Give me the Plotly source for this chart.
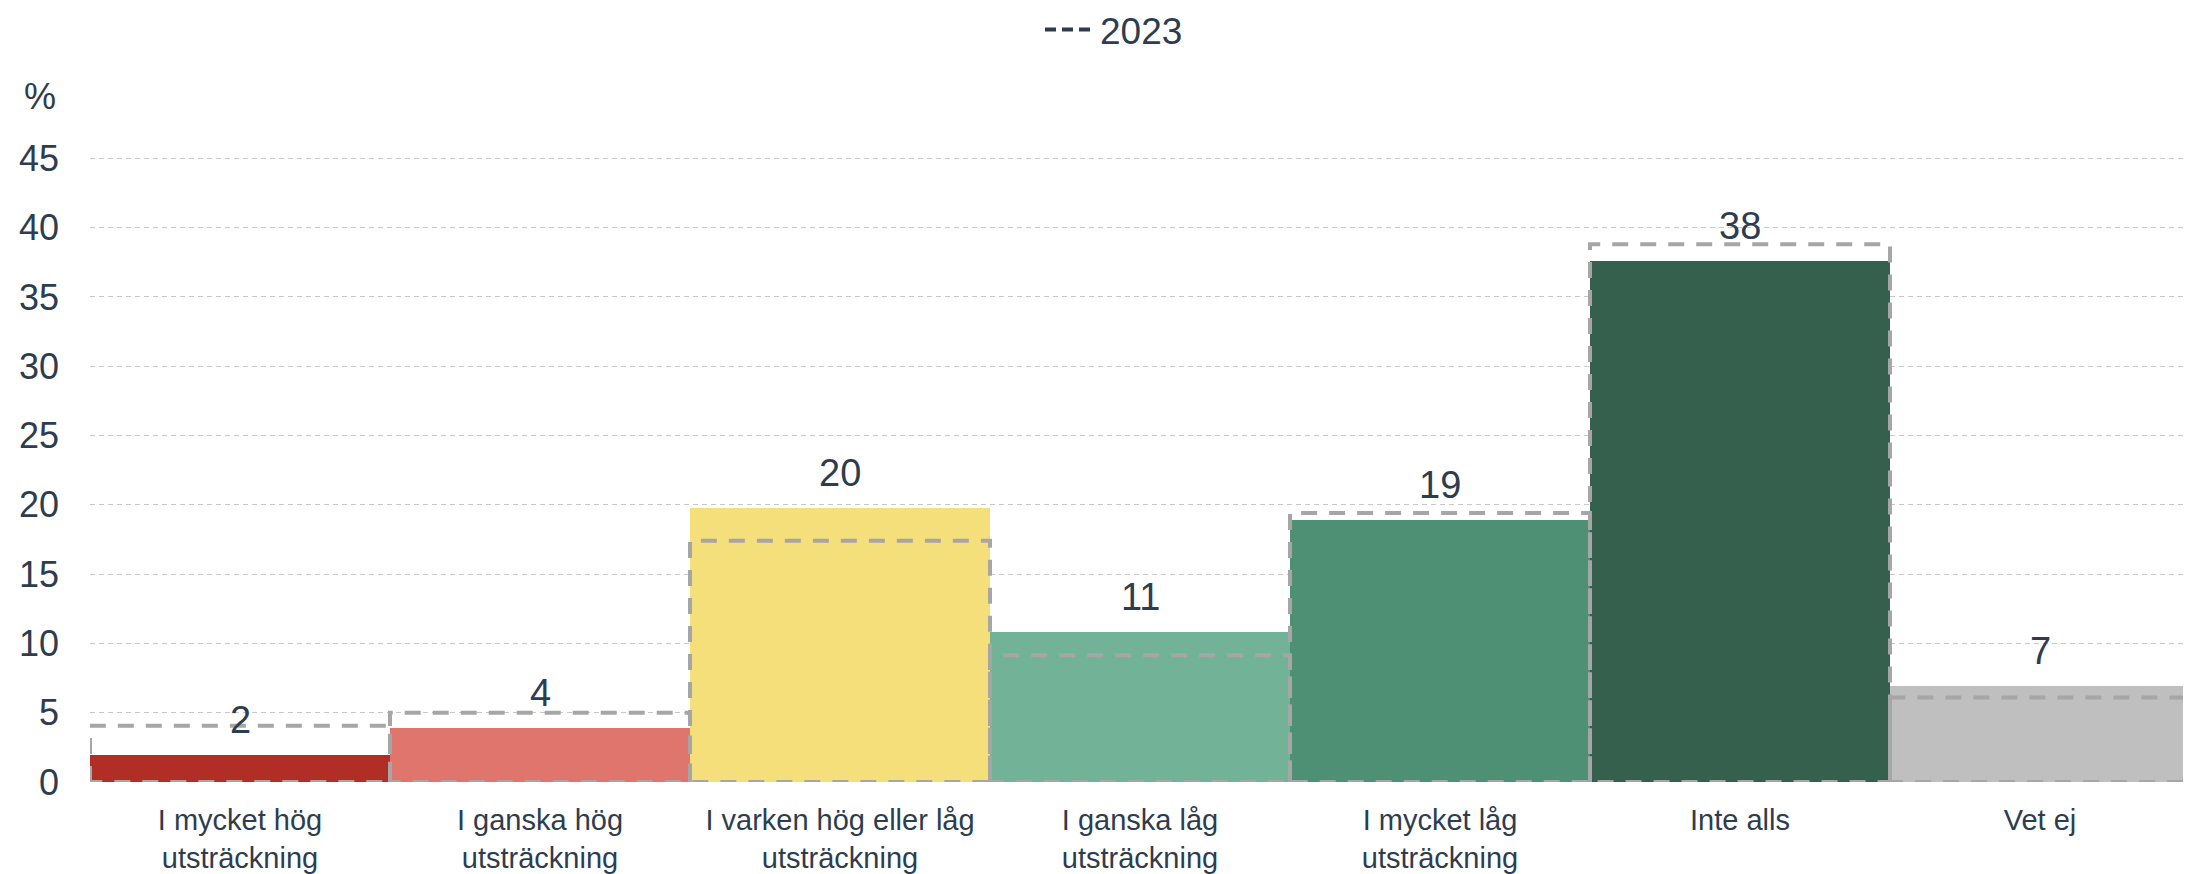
import plotly.graph_objects as go

categories = [
    "I mycket hög<br>utsträckning",
    "I ganska hög<br>utsträckning",
    "I varken hög eller låg<br>utsträckning",
    "I ganska låg<br>utsträckning",
    "I mycket låg<br>utsträckning",
    "Inte alls",
    "Vet ej",
]
values_current = [1.95, 3.9, 19.8, 10.8, 18.9, 37.6, 6.9]
values_2023 = [4.05, 5.0, 17.4, 9.15, 19.4, 38.8, 6.1]
bar_colors = ["#B02E26", "#E0756D", "#F5DF7B", "#72B398", "#4E9074", "#34604D", "#BFBFBF"]
y_ticks = [0, 5, 10, 15, 20, 25, 30, 35, 40, 45]

TEXT = "#2E3D4E"
FONT = "Arial, Liberation Sans, sans-serif"

OFF = 8  # page body margin
W, H = 2191 - OFF, 874 - OFF
# plot area in page coords: x 90..2190, y 89..782
ML, MR = 90 - OFF, W - (2190 - OFF)
MT, MB = 89 - OFF, H - (782 - OFF)
plot_w = W - ML - MR
plot_h = H - MT - MB


def px_to_paper_x(px):
    return (px - OFF - ML) / plot_w


def px_to_paper_y(py):
    return (H - MB - (py - OFF)) / plot_h


xs = list(range(len(categories)))

fig = go.Figure()
fig.add_trace(go.Bar(
    x=xs, y=values_current, width=1,
    marker=dict(color=bar_colors, line=dict(width=0)),
    showlegend=False, hoverinfo="skip",
))

# 2023 dashed outlines, built from the data values
ox, oy = [], []
for i, v in zip(xs, values_2023):
    ox += [i - 0.5, i - 0.5, i + 0.5, i + 0.5, i - 0.5, None]
    oy += [0, v, v, 0, 0, None]
fig.add_trace(go.Scatter(
    x=ox, y=oy, mode="lines",
    line=dict(color="#A6A6A6", width=4, dash="16px,12px"),
    showlegend=False, hoverinfo="skip", cliponaxis=False,
))
# legend entry
fig.add_trace(go.Scatter(
    x=[None], y=[None], mode="lines", name="2023",
    line=dict(color=TEXT, width=4, dash="11px,6px"),
))

for i, v in zip(xs, values_current):
    fig.add_annotation(
        x=i, y=v, xref="x", yref="y", text=str(round(v)),
        showarrow=False, yanchor="middle", yshift=35,
        font=dict(family=FONT, size=38, color=TEXT),
    )

fig.add_annotation(
    xref="paper", yref="paper",
    x=px_to_paper_x(40), y=px_to_paper_y(97),
    text="%", showarrow=False, xanchor="center", yanchor="middle",
    font=dict(family=FONT, size=36, color=TEXT),
)

fig.update_layout(
    width=W, height=H,
    margin=dict(l=ML, r=MR, t=MT, b=MB, autoexpand=False),
    paper_bgcolor="white", plot_bgcolor="white",
    bargap=0,
    font=dict(family=FONT, color=TEXT),
    showlegend=True,
    legend=dict(
        orientation="h", xref="paper", yref="paper",
        x=px_to_paper_x(1114), xanchor="center",
        y=px_to_paper_y(OFF - 9), yanchor="top",
        itemwidth=50, borderwidth=0,
        font=dict(family=FONT, size=37, color=TEXT),
        bgcolor="rgba(0,0,0,0)",
    ),
    xaxis=dict(
        range=[-0.5, 6.5], tickmode="array", tickvals=xs, ticktext=categories,
        showgrid=False, zeroline=False, showline=False, ticks="",
        tickfont=dict(family=FONT, size=29, color=TEXT),
        ticklabelstandoff=18,
    ),
    yaxis=dict(
        range=[0, 50], tickmode="array", tickvals=y_ticks,
        showgrid=True, gridcolor="#C8C8C8", gridwidth=1, griddash="5px,4px",
        zeroline=False, showline=False, ticks="",
        tickfont=dict(family=FONT, size=36, color=TEXT),
        ticklabelstandoff=30,
    ),
)

fig.write_html("out.html")
